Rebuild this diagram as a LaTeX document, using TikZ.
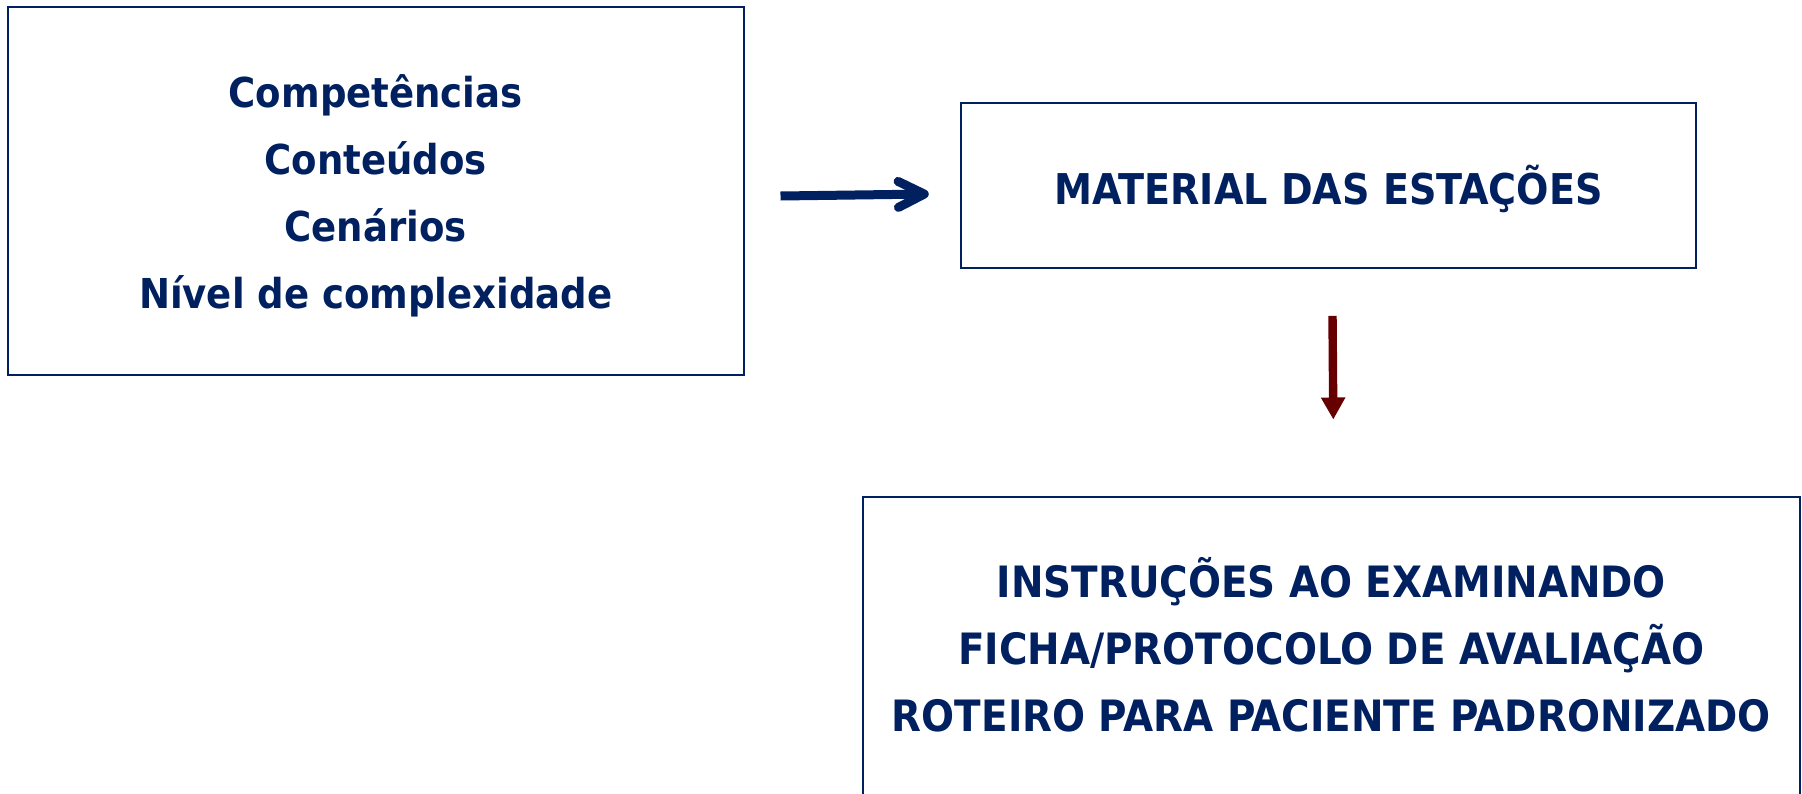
\documentclass[tikz,border=0pt]{standalone}
\usepackage{fontspec}
\usepackage{tikz}
\usetikzlibrary{arrows.meta,positioning,calc}
\newfontfamily\boxfont{DejaVu Sans Condensed Bold}
\definecolor{navy}{HTML}{002060}
\definecolor{darkred}{HTML}{660000}

\begin{document}
\begin{tikzpicture}[x=0.5pt,y=-0.5pt,
  box/.style={draw=navy,line width=1pt,text=navy,align=center,inner sep=0pt},
  bluearrow/.style={draw=navy,line width=4.5pt,-{Straight Barb[round,length=13pt,width=13pt]}},
  redarrow/.style={draw=darkred,line width=4.2pt,-{Triangle[length=11pt,width=11.5pt]}}]
\useasboundingbox (0,0) rectangle (1802,793);
\node [box,minimum width=367.75pt,minimum height=183.8pt,font=\boxfont\fontsize{20.6}{33.5}\selectfont] (inputs) at (375.75,190.8)
  {\rule{0pt}{21.7pt}Competências\\Conteúdos\\Cenários\\Nível de complexidade};
\node [box,minimum width=367.75pt,minimum height=82.2pt,text height=19pt,text depth=0pt,font=\boxfont\fontsize{21.2}{33.5}\selectfont] (material) at (1328.5,185.6)
  {MATERIAL DAS ESTAÇÕES};
\node [box,minimum width=468.3pt,minimum height=152.5pt,font=\boxfont\fontsize{21.6}{33.5}\selectfont] (docs) at (1331.3,649)
  {INSTRUÇÕES AO EXAMINANDO\\FICHA/PROTOCOLO DE AVALIAÇÃO\\ROTEIRO PARA PACIENTE PADRONIZADO\rule[-4.6pt]{0pt}{4.6pt}};
\draw [bluearrow] ([xshift=18pt,yshift=-2.6pt]inputs.east) -- ([xshift=-15.5pt,yshift=-4.2pt]material.west);
\draw [redarrow] ([xshift=2pt,yshift=-23.5pt]material.south) -- ([xshift=1pt,yshift=38pt]docs.north);
\end{tikzpicture}
\end{document}
